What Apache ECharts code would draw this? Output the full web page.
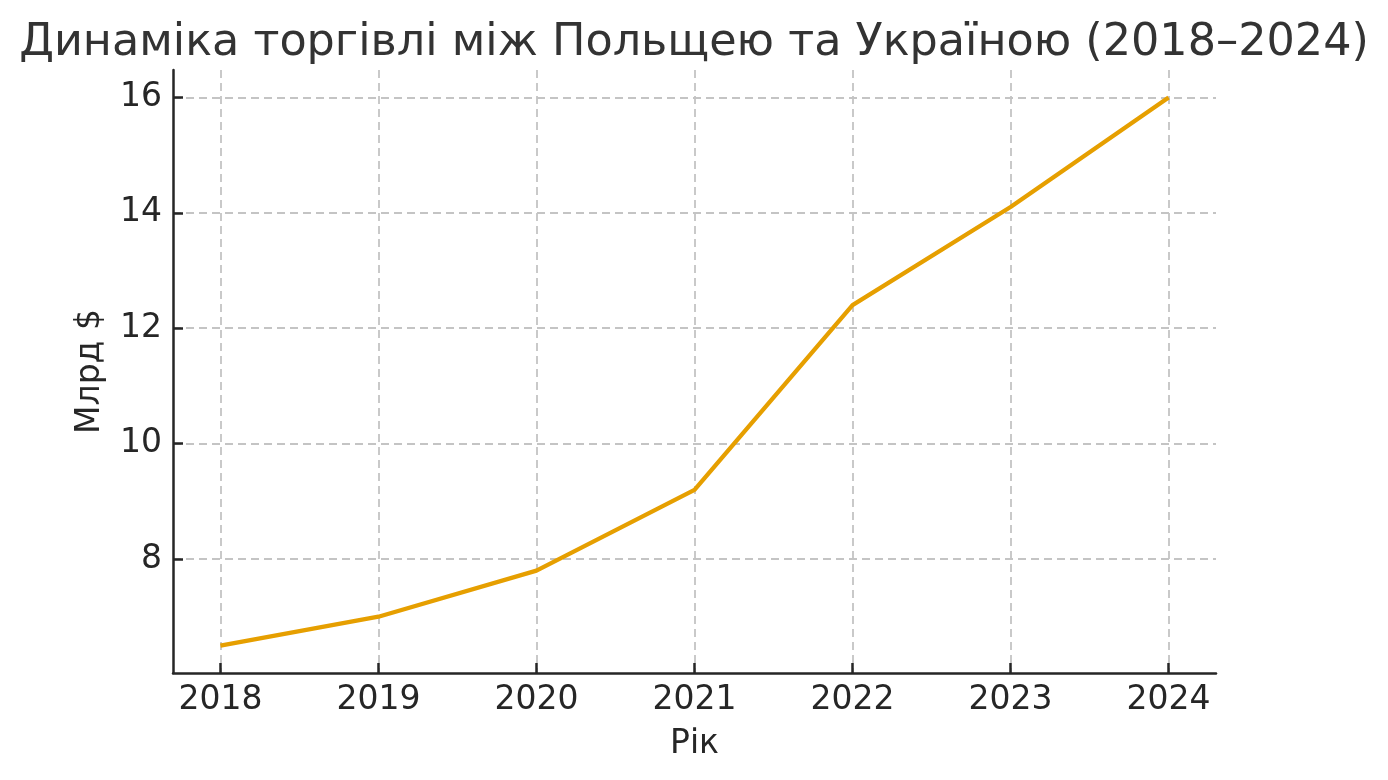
<!DOCTYPE html>
<html>
<head>
<meta charset="utf-8">
<script src="https://cdn.jsdelivr.net/npm/echarts@6/dist/echarts.min.js"></script>
<style>
  html, body { margin: 0; padding: 0; background: #fff; }
  #chart { width: 1388px; height: 780px; }
</style>
</head>
<body>
<div id="chart"></div>
<script>
// роки та обсяг торгівлі, млрд $
const years = [2018, 2019, 2020, 2021, 2022, 2023, 2024]
const tradeValues = [6.5, 7.0, 7.8, 9.2, 12.4, 14.1, 16.0]
const yTicks = [8, 10, 12, 14, 16]

const font = 'DejaVu Sans'
const axisColor = '#262626'

const chart = echarts.init(document.getElementById('chart'))
chart.setOption({
    animation: false,
    backgroundColor: '#fff',
    title: {
        text: 'Динаміка торгівлі між Польщею та Україною (2018–2024)',
        left: 'center',
        top: 16,
        textStyle: { fontFamily: font, fontSize: 44.5, fontWeight: 'normal', color: '#333' }
    },
    grid: { left: 173, right: 172, top: 70, bottom: 107 },
    xAxis: {
        type: 'value',
        min: 2017.7,
        max: 2024.3,
        name: 'Рік',
        nameLocation: 'middle',
        nameGap: 55,
        nameTextStyle: { fontFamily: font, fontSize: 33, color: axisColor },
        axisLine: { show: true, onZero: false, lineStyle: { color: axisColor, width: 2.5 } },
        axisTick: { show: true, inside: true, length: 10, customValues: years, lineStyle: { color: axisColor, width: 2.5 } },
        axisLabel: {
            customValues: years,
            margin: 11,
            formatter: v => String(v),
            fontFamily: font, fontSize: 33, color: axisColor
        },
        splitLine: { show: true, lineStyle: { color: '#c4c4c4', width: 1.8, type: [8, 5] } }
    },
    yAxis: {
        type: 'value',
        min: 6.025,
        max: 16.475,
        name: 'Млрд $',
        nameLocation: 'middle',
        nameGap: 66,
        nameTextStyle: { fontFamily: font, fontSize: 33, color: axisColor },
        axisLine: { show: true, onZero: false, lineStyle: { color: axisColor, width: 2.5 } },
        axisTick: { show: true, inside: true, length: 10, customValues: yTicks, lineStyle: { color: axisColor, width: 2.5 } },
        axisLabel: {
            customValues: yTicks,
            margin: 11,
            formatter: v => String(v),
            fontFamily: font, fontSize: 33, color: axisColor
        },
        splitLine: { show: true, lineStyle: { color: '#c4c4c4', width: 1.8, type: [8, 5] } }
    },
    series: [
        {
            type: 'line',
            data: years.map((y, i) => [y, tradeValues[i]]),
            symbol: 'none',
            lineStyle: { color: '#E69F00', width: 4.3 },
            itemStyle: { color: '#E69F00' }
        }
    ]
})
</script>
</body>
</html>
